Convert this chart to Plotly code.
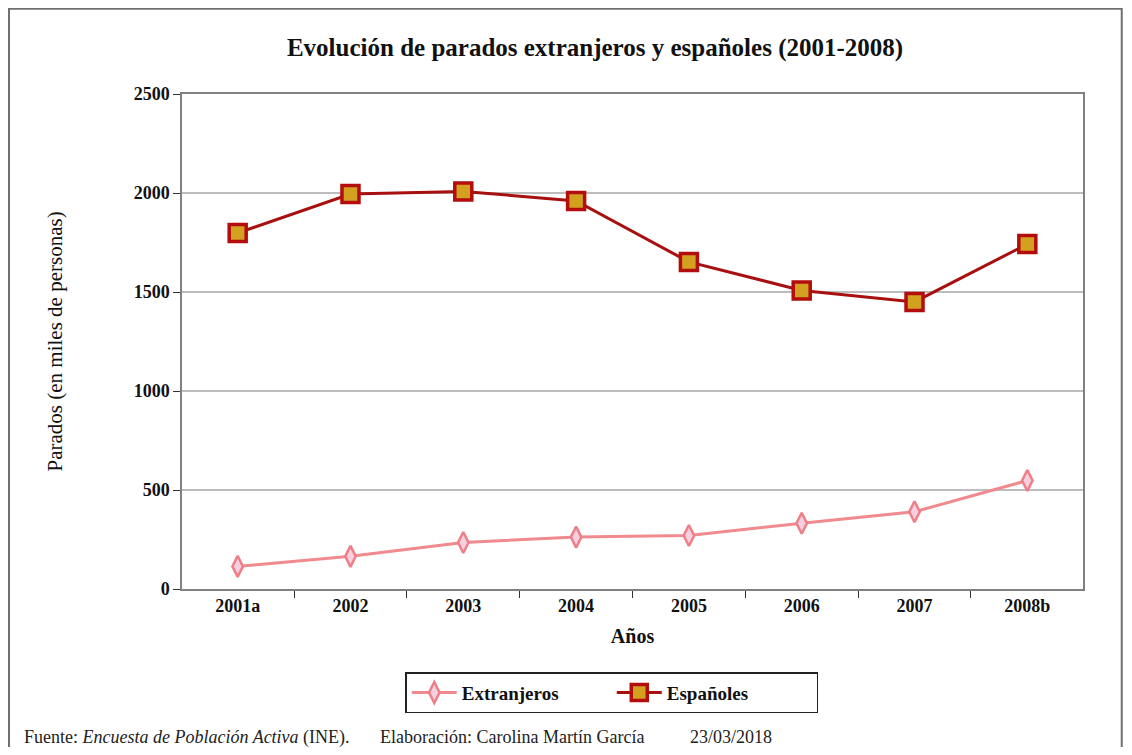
import plotly.graph_objects as go

# Data (miles de personas)
anios = ["2001a", "2002", "2003", "2004", "2005", "2006", "2007", "2008b"]
extranjeros = [114, 165, 235, 262, 270, 332, 390, 548]
espanoles = [1798, 1995, 2008, 1960, 1652, 1508, 1450, 1742]
y_ticks = [0, 500, 1000, 1500, 2000, 2500]

SERIF = "Liberation Serif, Times New Roman, serif"

fig = go.Figure()

fig.add_trace(go.Scatter(
    x=anios, y=extranjeros, name="<b>Extranjeros</b>",
    mode="lines+markers",
    line=dict(color="#f08a8e", width=3),
    marker=dict(symbol="diamond-tall", size=15, color="#f7cfe0",
                line=dict(color="#ee7f86", width=2.5)),
))
fig.add_trace(go.Scatter(
    x=anios, y=espanoles, name="<b>Españoles</b>",
    mode="lines+markers",
    line=dict(color="#a81010", width=3),
    marker=dict(symbol="square", size=17, color="#d4a020",
                line=dict(color="#b30d0d", width=3.5)),
))

#######################################
#   Frame, axis title and footer   #
#######################################
# the page body adds an 8px offset, so the figure is drawn at 1116x739
fig.add_shape(
    type="rect", xref="paper", yref="paper",
    x0=-0.192, x1=1.043, y0=-0.335, y1=1.172,
    line=dict(color="#707070", width=2), layer="below",
)

fig.add_annotation(
    xref="paper", yref="paper", x=-0.141, y=0.5,
    xanchor="center", yanchor="middle", showarrow=False, textangle=-90,
    text="Parados (en miles de personas)",
    font=dict(family=SERIF, size=21, color="#111"),
)

footer = [
    (-0.1776, "Fuente: <i>Encuesta de Población Activa</i> (INE)."),
    (0.2175, "Elaboración: Carolina Martín García"),
    (0.5616, "23/03/2018"),
]
for x, text in footer:
    fig.add_annotation(
        xref="paper", yref="paper", x=x, y=-0.299,
        xanchor="left", yanchor="middle", showarrow=False, text=text,
        font=dict(family=SERIF, size=18, color="#222"),
    )

fig.update_layout(
    width=1116, height=739,
    margin=dict(l=174, r=41, t=86, b=158),
    paper_bgcolor="white", plot_bgcolor="white",
    title=dict(
        text="<b>Evolución de parados extranjeros y españoles (2001-2008)</b>",
        x=0.526, xanchor="center", y=0.947, yanchor="middle",
        font=dict(family=SERIF, size=25, color="#111"),
    ),
    font=dict(family=SERIF, color="#111"),
    showlegend=True,
    legend=dict(
        orientation="h", x=0.477, xanchor="center", y=-0.168, yanchor="top",
        bordercolor="#222", borderwidth=1.5, bgcolor="white",
        font=dict(family=SERIF, size=19), itemwidth=45,
        entrywidth=145, entrywidthmode="pixels",
    ),
    xaxis=dict(
        title=dict(text="<b>Años</b>", font=dict(size=20), standoff=14),
        tickfont=dict(size=18), tickprefix="<b>", ticksuffix="</b>",
        showline=True, linecolor="#808080", linewidth=1.5, mirror=True,
        ticks="outside", ticklen=7, tickcolor="#333",
        tickson="boundaries", showgrid=False,
    ),
    yaxis=dict(
        range=[0, 2500], tickvals=y_ticks,
        ticktext=[f"<b>{v}</b>" for v in y_ticks], tickfont=dict(size=18),
        showline=True, linecolor="#808080", linewidth=1.5, mirror=True,
        ticks="outside", ticklen=7, tickcolor="#333",
        showgrid=True, gridcolor="#bdbdbd", gridwidth=1.5, zeroline=False,
    ),
)

fig.write_html("out.html")
